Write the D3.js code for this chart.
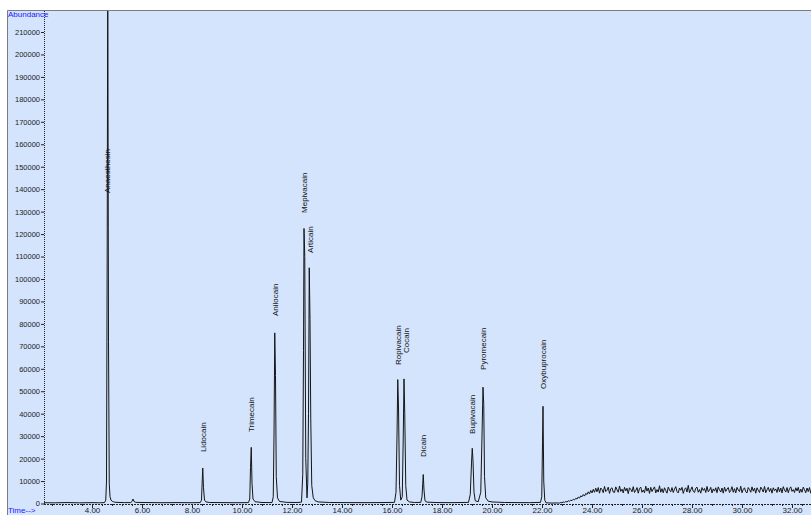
<!DOCTYPE html>
<html>
<head>
<meta charset="utf-8">
<script src="https://cdn.jsdelivr.net/npm/d3@7"></script>
<style>
  html, body { margin: 0; padding: 0; background: #fff; overflow: hidden; }
  svg { display: block; font-family: "Liberation Sans", Arial, sans-serif; }
</style>
</head>
<body>
<div id="chart"></div>
<script>
// Peak annotations: name, retention time (min), abundance level where the label starts.
const peakNames = ["Anaesthesin", "Lidocain", "Trimecain", "Anilocain", "Mepivacain", "Articain",
  "Ropivacain", "Cocain", "Dicain", "Bupivacain", "Pyromecain", "Oxybuprocain"];
const peakTimes = [4.60, 8.43, 10.36, 11.31, 12.48, 12.70, 16.23, 16.56, 17.25, 19.21, 19.64, 22.04];
const labelLevels = [138300, 22900, 31800, 83500, 129400, 111600, 61700, 67000, 20700, 31000, 59500, 51000];

// Chromatogram trace up to the end of the last peak: [time, abundance]
const tracePoints = [
  [2.08, 350], [2.5, 300], [3.0, 420], [3.5, 300], [4.0, 380], [4.3, 320],
  // Anaesthesin
  [4.50, 400], [4.55, 1500], [4.58, 10000], [4.61, 123000], [4.63, 245000], [4.66, 72000],
  [4.69, 9000], [4.72, 3000], [4.76, 1500], [4.82, 900], [4.90, 600], [5.00, 500], [5.30, 400],
  // small bump
  [5.55, 400], [5.60, 900], [5.64, 2000], [5.68, 900], [5.75, 500], [6.2, 420], [6.8, 350],
  [7.4, 400], [8.0, 350],
  // Lidocain
  [8.33, 400], [8.38, 1500], [8.41, 10500], [8.43, 15800], [8.46, 7000], [8.50, 1500], [8.56, 700],
  [8.7, 450], [9.2, 400], [9.8, 350],
  // Trimecain
  [10.26, 400], [10.31, 2000], [10.34, 16000], [10.37, 25000], [10.40, 9000], [10.44, 2000],
  [10.52, 800], [10.8, 450],
  // Anilocain
  [11.20, 400], [11.25, 3000], [11.28, 30000], [11.31, 76000], [11.34, 57000], [11.37, 12000],
  [11.42, 2500], [11.50, 900], [11.8, 500], [12.2, 450],
  // Mepivacain / Articain
  [12.38, 600], [12.43, 13000], [12.46, 68000], [12.48, 122500], [12.51, 110000], [12.55, 20000],
  [12.60, 2500], [12.63, 9000], [12.66, 40000], [12.69, 105000], [12.72, 82000], [12.75, 38000],
  [12.79, 8000], [12.85, 2500], [12.93, 1200], [13.05, 700], [13.5, 450], [14.2, 400], [15.0, 380],
  [15.6, 420],
  // Ropivacain / Cocain
  [16.10, 500], [16.16, 5000], [16.20, 30000], [16.23, 55200], [16.26, 43000], [16.30, 8000],
  [16.35, 1500], [16.41, 3000], [16.45, 30000], [16.48, 55500], [16.51, 40000], [16.55, 8000],
  [16.60, 1500], [16.70, 700], [16.9, 450],
  // Dicain
  [17.15, 500], [17.20, 3000], [17.23, 9000], [17.25, 12900], [17.28, 6000], [17.32, 1200],
  [17.40, 600], [17.8, 420], [18.4, 380],
  // Bupivacain / Pyromecain
  [19.06, 500], [19.13, 4000], [19.18, 18000], [19.21, 24600], [19.24, 19000], [19.28, 5000],
  [19.33, 1200], [19.45, 800], [19.55, 5000], [19.60, 30000], [19.64, 51800], [19.67, 44000],
  [19.70, 12000], [19.75, 2500], [19.85, 1000], [20.00, 700], [20.5, 450], [21.0, 400], [21.5, 380],
  // Oxybuprocain
  [21.94, 500], [21.99, 3000], [22.02, 27000], [22.04, 43300], [22.07, 10000], [22.11, 1500],
  [22.16, 300], [22.40, 200], [22.62, 250]
];

// Rising, noisy baseline from 22.70 min, one value per scan group
const driftStart = 22.70;
const driftStep = 0.05;
const driftCounts = [
  200, 450, 300, 700, 500, 900, 650, 1200, 1000, 1500, 1250, 1900, 1600, 2300, 2000, 2900, 2400, 3400, 3000, 4000,
  3300, 4500, 4000, 5200, 4300, 5800, 4700, 6300, 5000, 6800,
  5200, 7100, 4600, 6900, 6200, 4800, 7600, 5300, 5900, 7300, 4500, 6600, 7000, 5100, 4900, 7400, 6100, 5000, 7800, 5400,
  6400, 4700, 7200, 5600, 6800, 4400, 7000, 6300, 5200, 7500, 4900, 5800, 7100, 4600, 6700, 7300, 5000, 6000, 4800, 7700,
  5500, 6900, 4500, 7200, 5300, 6500, 7400, 4700, 6200, 5100, 7900, 5000, 6600, 4800, 7000, 5700, 4600, 7300, 6000, 5200,
  7100, 4900, 6400, 7500, 5300, 4700, 6900, 5900, 7200, 4500, 6300, 7000, 5100, 8100, 4800, 6100, 7400, 5400, 4900, 6800,
  7300, 5000, 6200, 4600, 7100, 5800, 6700, 4900, 7600, 5200, 6000, 7200, 4700, 6500, 5500, 7000, 4800, 7400, 6100, 5100,
  6900, 4600, 7300, 5400, 6400, 7100, 4900, 5800, 7500, 5000, 6600, 4700, 7200, 6000, 5300, 7700, 4800, 6300, 7000, 5200,
  4700, 7100, 6200, 5000, 7400, 5500, 6800, 4600, 7000, 5900, 4900, 7300, 6400, 5100, 7600, 4800, 6100, 7200, 5300, 6700,
  4600, 7000, 5700, 6500, 4900, 7300, 5200, 6900, 4700, 7500, 6000, 5100, 7100, 4800, 6600, 7400, 5400, 6200, 4900, 7000,
  5600, 7200, 4700, 6400, 5000, 7300, 6100, 4800, 6900, 5300, 7100, 4600, 6700
];

const yTicks = d3.range(0, 210001, 10000);
const xTicks = d3.range(4, 32.01, 2);
const xMinorTicks = d3.range(2.4, 32.8, 0.4);

const W = 811, H = 515;
const frame = { left: 7, top: 10 };
const plot = { left: 44, bottom: 504 };

const svg = d3.select('#chart').append('svg')
  .attr('width', W)
  .attr('height', H);

svg.append('rect')
  .attr('x', frame.left)
  .attr('y', frame.top)
  .attr('width', W - frame.left)
  .attr('height', H - frame.top)
  .attr('fill', '#d4e4fc');

svg.append('path')
  .attr('d', `M${frame.left + 0.5},${H}V${frame.top + 0.5}H${W}`)
  .attr('fill', 'none')
  .attr('stroke', '#7c7c7c')
  .attr('stroke-width', 1);

const x = d3.scaleLinear().domain([4, 32]).range([92, 792]);
const y = d3.scaleLinear().domain([0, 210000]).range([503.5, 32]);

// Clip so the off-scale peak stops at the frame
svg.append('clipPath').attr('id', 'plotclip')
  .append('rect')
  .attr('x', plot.left)
  .attr('y', frame.top + 1)
  .attr('width', W - plot.left)
  .attr('height', plot.bottom - frame.top);

const trace = tracePoints.concat(driftCounts.map((v, i) => [driftStart + i * driftStep, v]));

const line = d3.line()
  .x(d => x(d[0]))
  .y(d => y(d[1]));

svg.append('path')
  .datum(trace)
  .attr('clip-path', 'url(#plotclip)')
  .attr('d', line)
  .attr('fill', 'none')
  .attr('stroke', '#151515')
  .attr('stroke-width', 1);

// Y axis
const yAxis = d3.axisLeft(y)
  .tickValues(yTicks)
  .tickSize(3)
  .tickSizeOuter(0)
  .tickFormat(d3.format('d'));

const yG = svg.append('g')
  .attr('transform', `translate(${plot.left},0)`)
  .call(yAxis);
yG.select('.domain').remove();
yG.selectAll('.tick line').attr('stroke', '#222');
yG.selectAll('.tick text')
  .attr('x', -4)
  .attr('font-size', '7.5px')
  .attr('font-family', '"Liberation Sans", Arial, sans-serif')
  .attr('fill', '#222');

svg.append('line')
  .attr('x1', plot.left + 0.5).attr('x2', plot.left + 0.5)
  .attr('y1', frame.top + 1).attr('y2', plot.bottom)
  .attr('stroke', '#222')
  .attr('stroke-dasharray', '1,1');

// X axis
const xMinor = d3.axisBottom(x)
  .tickValues(xMinorTicks)
  .tickSize(2)
  .tickSizeOuter(0)
  .tickFormat('');
const xMinorG = svg.append('g')
  .attr('transform', `translate(0,${plot.bottom})`)
  .call(xMinor);
xMinorG.select('.domain').remove();
xMinorG.selectAll('.tick line').attr('stroke', '#222');

const xAxis = d3.axisBottom(x)
  .tickValues(xTicks)
  .tickSize(4)
  .tickSizeOuter(0)
  .tickFormat(d3.format('.2f'));
const xG = svg.append('g')
  .attr('transform', `translate(0,${plot.bottom})`)
  .call(xAxis);
xG.select('.domain').remove();
xG.selectAll('.tick line').attr('stroke', '#222');
xG.selectAll('.tick text')
  .attr('y', 3)
  .attr('font-size', '8px')
  .attr('font-family', '"Liberation Sans", Arial, sans-serif')
  .attr('fill', '#222');

svg.append('line')
  .attr('x1', plot.left).attr('x2', W)
  .attr('y1', plot.bottom + 0.5).attr('y2', plot.bottom + 0.5)
  .attr('stroke', '#222')
  .attr('stroke-dasharray', '2,1');

// Axis captions
svg.append('text')
  .attr('x', 8)
  .attr('y', 17)
  .attr('font-size', '8px')
  .attr('fill', '#1a1aff')
  .text('Abundance');

svg.append('text')
  .attr('x', 8)
  .attr('y', 512.5)
  .attr('font-size', '8px')
  .attr('fill', '#1a1aff')
  .text('Time-->');

// Peak labels, rotated, reading bottom to top
svg.selectAll('.peak-label')
  .data(peakNames)
  .enter()
  .append('text')
  .attr('class', 'peak-label')
  .attr('transform', (d, i) => `translate(${x(peakTimes[i]) + 3},${y(labelLevels[i])}) rotate(-90)`)
  .attr('font-size', '8px')
  .attr('fill', '#111')
  .text(d => d);
</script>
</body>
</html>
